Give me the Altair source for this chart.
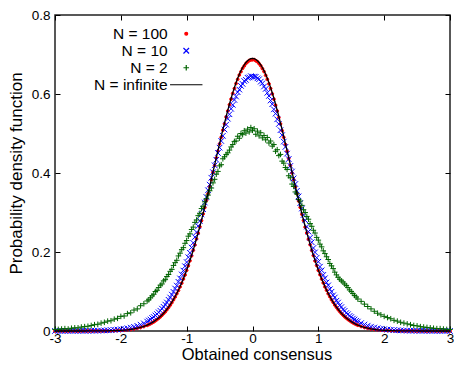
import altair as alt
import numpy as np
import pandas as pd

# sample positions (x) shared by all series
X_GRID = np.round(np.concatenate([
    np.arange(-3.0, -1.62, 0.05),
    np.arange(-1.6, 1.6125, 0.025),
    np.arange(1.65, 3.02, 0.05),
]), 3)

SERIES = ["N = 100", "N = 10", "N = 2", "N = infinite"]
COLORS = ["#ff0000", "#0000ff", "#006400", "#000000"]
FILLS = ["#ff0000", "transparent", "transparent", "transparent"]
SHAPES = [
    "M-0.32,0A0.32,0.32,0,1,1,0.32,0A0.32,0.32,0,1,1,-0.32,0Z",
    "M-0.62,-0.62L0.62,0.62M0.62,-0.62L-0.62,0.62",
    "M-0.62,0H0.62M0,-0.62V0.62",
    "M-3.6,0H3.6",
]
X_TICKS = [-3, -2, -1, 0, 1, 2, 3]
Y_TICKS = [0, 0.2, 0.4, 0.6, 0.8]

RED_Y = [
    0, 0, 0, 0, 0, 0, 0, 0, 0, 0,
    0.0001, 0.0001, 0.0001, 0.0002, 0.0003, 0.0003, 0.0005, 0.0006, 0.0009, 0.0012,
    0.0016, 0.0022, 0.0030, 0.0040, 0.0052, 0.0068, 0.0088, 0.0113,
    0.0143, 0.0163, 0.0183, 0.0207, 0.0231, 0.0260, 0.0290, 0.0323, 0.0358, 0.0399,
    0.0443, 0.0487, 0.0541, 0.0594, 0.0655, 0.0718, 0.0790, 0.0862, 0.0944, 0.1025,
    0.1118, 0.1212, 0.1315, 0.1418, 0.1535, 0.1650, 0.1778, 0.1903, 0.2043, 0.2180,
    0.2330, 0.2476, 0.2638, 0.2793, 0.2965, 0.3126, 0.3305, 0.3472, 0.3658, 0.3831,
    0.4019, 0.4193, 0.4380, 0.4553, 0.4737, 0.4905, 0.5085, 0.5245, 0.5418, 0.5571,
    0.5730, 0.5871, 0.6014, 0.6138, 0.6266, 0.6373, 0.6480, 0.6566, 0.6650, 0.6712,
    0.6772, 0.6811, 0.6849, 0.6862,
    0.6868,
    0.6870, 0.6843, 0.6817, 0.6768, 0.6716, 0.6643, 0.6568, 0.6472, 0.6374, 0.6258,
    0.6140, 0.6004, 0.5870, 0.5718, 0.5570, 0.5405, 0.5243, 0.5072, 0.4903, 0.4722,
    0.4550, 0.4365, 0.4192, 0.4004, 0.3832, 0.3644, 0.3476, 0.3292, 0.3130, 0.2955,
    0.2798, 0.2630, 0.2482, 0.2324, 0.2186, 0.2040, 0.1910, 0.1775, 0.1658, 0.1533,
    0.1426, 0.1314, 0.1218, 0.1118, 0.1032, 0.0943, 0.0869, 0.0790, 0.0725, 0.0657,
    0.0600, 0.0543, 0.0494, 0.0445, 0.0403, 0.0362, 0.0327, 0.0292, 0.0264, 0.0234,
    0.0210, 0.0186, 0.0166, 0.0147,
    0.0114, 0.0089, 0.0067, 0.0052, 0.0040, 0.0030, 0.0022, 0.0016, 0.0012, 0.0009,
    0.0006, 0.0005, 0.0004, 0.0002, 0.0002, 0.0001, 0.0001, 0,
    0, 0, 0, 0, 0, 0, 0, 0, 0, 0,
]

BLUE_Y = [
    0.0001, 0.0001, 0.0001, 0.0001, 0.0001, 0.0002, 0.0002, 0.0002, 0.0003, 0.0003,
    0.0004, 0.0005, 0.0007, 0.0008, 0.0011, 0.0014, 0.0018, 0.0023, 0.0029, 0.0036,
    0.0045, 0.0056, 0.0070, 0.0086, 0.0106, 0.0131, 0.0160, 0.0193,
    0.0238, 0.0266, 0.0291, 0.0326, 0.0355, 0.0394, 0.0428, 0.0473, 0.0514, 0.0566,
    0.0611, 0.0669, 0.0722, 0.0790, 0.0848, 0.0921, 0.0990, 0.1075, 0.1150, 0.1245,
    0.1331, 0.1432, 0.1530, 0.1640, 0.1744, 0.1868, 0.1979, 0.2113, 0.2231, 0.2378,
    0.2502, 0.2657, 0.2788, 0.2951, 0.3085, 0.3252, 0.3392, 0.3563, 0.3705, 0.3880,
    0.4020, 0.4195, 0.4335, 0.4507, 0.4642, 0.4811, 0.4941, 0.5101, 0.5224, 0.5375,
    0.5487, 0.5626, 0.5725, 0.5851, 0.5936, 0.6045, 0.6112, 0.6205, 0.6255, 0.6328,
    0.6358, 0.6411, 0.6421, 0.6452,
    0.6438,
    0.6440, 0.6436, 0.6397, 0.6374, 0.6312, 0.6270, 0.6190, 0.6128, 0.6030, 0.5951,
    0.5835, 0.5742, 0.5611, 0.5503, 0.5359, 0.5240, 0.5085, 0.4958, 0.4795, 0.4660,
    0.4490, 0.4352, 0.4180, 0.4037, 0.3864, 0.3721, 0.3549, 0.3408, 0.3238, 0.3100,
    0.2936, 0.2803, 0.2643, 0.2517, 0.2364, 0.2246, 0.2101, 0.1991, 0.1855, 0.1753,
    0.1628, 0.1535, 0.1420, 0.1336, 0.1230, 0.1156, 0.1058, 0.0994, 0.0904, 0.0848,
    0.0767, 0.0720, 0.0648, 0.0606, 0.0545, 0.0510, 0.0456, 0.0425, 0.0381, 0.0353,
    0.0315, 0.0291, 0.0260, 0.0238,
    0.0200, 0.0163, 0.0135, 0.0109, 0.0088, 0.0071, 0.0057, 0.0046, 0.0037, 0.0030,
    0.0024, 0.0019, 0.0015, 0.0012, 0.0009, 0.0007, 0.0006, 0.0005, 0.0004, 0.0003,
    0.0003, 0.0002, 0.0002, 0.0001, 0.0001, 0.0001, 0.0001, 0.0001,
]

GREEN_Y = [
    0.004, 0.004, 0.005, 0.006, 0.005, 0.007, 0.008, 0.008, 0.010, 0.011,
    0.012, 0.014, 0.016, 0.017, 0.020, 0.022, 0.025, 0.026, 0.030, 0.032,
    0.037, 0.038, 0.044, 0.046, 0.053, 0.056, 0.064, 0.069,
    0.076, 0.079, 0.084, 0.089, 0.093, 0.100, 0.103, 0.110, 0.116, 0.119,
    0.127, 0.130, 0.138, 0.143, 0.151, 0.156, 0.166, 0.173, 0.179, 0.190,
    0.197, 0.206, 0.211, 0.222, 0.229, 0.240, 0.246, 0.257, 0.263, 0.275,
    0.281, 0.292, 0.298, 0.310, 0.316, 0.327, 0.335, 0.344, 0.355, 0.362,
    0.375, 0.384, 0.397, 0.404, 0.418, 0.421, 0.436, 0.441, 0.447, 0.451,
    0.458, 0.466, 0.472, 0.480, 0.481, 0.493, 0.488, 0.500, 0.497, 0.507,
    0.501, 0.511, 0.504, 0.515,
    0.508,
    0.512, 0.498, 0.506, 0.494, 0.502, 0.489, 0.495, 0.484, 0.490, 0.476,
    0.481, 0.468, 0.472, 0.455, 0.459, 0.444, 0.447, 0.430, 0.425, 0.414,
    0.409, 0.393, 0.388, 0.372, 0.366, 0.352, 0.347, 0.333, 0.329, 0.318,
    0.307, 0.300, 0.290, 0.283, 0.272, 0.265, 0.255, 0.248, 0.237, 0.230,
    0.220, 0.213, 0.203, 0.196, 0.188, 0.181, 0.171, 0.165, 0.158, 0.149,
    0.142, 0.136, 0.131, 0.127, 0.124, 0.119, 0.115, 0.110, 0.104, 0.100,
    0.095, 0.090, 0.086, 0.081,
    0.075, 0.068, 0.062, 0.056, 0.050, 0.045, 0.041, 0.037, 0.034, 0.031,
    0.027, 0.025, 0.022, 0.020, 0.018, 0.016, 0.014, 0.013, 0.011, 0.010,
    0.009, 0.008, 0.007, 0.006, 0.006, 0.005, 0.004, 0.004,
]

THEORY_Y = [
    0, 0, 0, 0, 0, 0, 0, 0, 0, 0,
    0.0001, 0.0001, 0.0001, 0.0002, 0.0003, 0.0004, 0.0005, 0.0007, 0.0009, 0.0013,
    0.0017, 0.0023, 0.0031, 0.0041, 0.0054, 0.0070, 0.0091, 0.0117,
    0.0149, 0.0168, 0.0189, 0.0212, 0.0238, 0.0266, 0.0297, 0.0330, 0.0367, 0.0407,
    0.0451, 0.0498, 0.0550, 0.0605, 0.0665, 0.0730, 0.0799, 0.0874, 0.0953, 0.1038,
    0.1128, 0.1224, 0.1325, 0.1432, 0.1544, 0.1664, 0.1787, 0.1916, 0.2052, 0.2193,
    0.2339, 0.2490, 0.2646, 0.2807, 0.2972, 0.3140, 0.3313, 0.3487, 0.3665, 0.3845,
    0.4026, 0.4207, 0.4388, 0.4568, 0.4746, 0.4922, 0.5096, 0.5263, 0.5430, 0.5591,
    0.5744, 0.5892, 0.6030, 0.6161, 0.6284, 0.6396, 0.6499, 0.6591, 0.6671, 0.6740,
    0.6797, 0.6842, 0.6874, 0.6894,
    0.6900,
    0.6894, 0.6874, 0.6842, 0.6797, 0.6740, 0.6671, 0.6591, 0.6499, 0.6396, 0.6284,
    0.6161, 0.6030, 0.5892, 0.5744, 0.5591, 0.5430, 0.5263, 0.5096, 0.4922, 0.4746,
    0.4568, 0.4388, 0.4207, 0.4026, 0.3845, 0.3665, 0.3487, 0.3313, 0.3140, 0.2972,
    0.2807, 0.2646, 0.2490, 0.2339, 0.2193, 0.2052, 0.1916, 0.1787, 0.1664, 0.1544,
    0.1432, 0.1325, 0.1224, 0.1128, 0.1038, 0.0953, 0.0874, 0.0799, 0.0730, 0.0665,
    0.0605, 0.0550, 0.0498, 0.0451, 0.0407, 0.0367, 0.0330, 0.0297, 0.0266, 0.0238,
    0.0212, 0.0189, 0.0168, 0.0149,
    0.0117, 0.0091, 0.0070, 0.0054, 0.0041, 0.0031, 0.0023, 0.0017, 0.0013, 0.0009,
    0.0007, 0.0005, 0.0004, 0.0003, 0.0002, 0.0001, 0.0001, 0.0001,
    0, 0, 0, 0, 0, 0, 0, 0, 0, 0,
]

n = len(X_GRID)
assert len(RED_Y) == n and len(BLUE_Y) == n and len(GREEN_Y) == n and len(THEORY_Y) == n

pts = pd.concat([
    pd.DataFrame({"x": X_GRID, "y": RED_Y, "series": SERIES[0]}),
    pd.DataFrame({"x": X_GRID, "y": BLUE_Y, "series": SERIES[1]}),
    pd.DataFrame({"x": X_GRID, "y": GREEN_Y, "series": SERIES[2]}),
], ignore_index=True)
theory = pd.DataFrame({"x": X_GRID, "y": THEORY_Y})

FONT = "Liberation Sans"
W, H = 395, 316
xscale = alt.Scale(domain=[-3, 3], nice=False, zero=False)
yscale = alt.Scale(domain=[0, 0.8], nice=False)

legend = alt.Legend(
    title=None, orient="none", legendX=123.5, legendY=11,
    labelAlign="right", labelOffset={"expr": "-26.3"},
    labelFont=FONT, labelFontSize=15.5,
    labelColor="#000", labelLimit=300, symbolSize=81, symbolStrokeWidth=1.2,
    rowPadding=0, padding=0,
)

points = alt.Chart(pts).mark_point(size=81, strokeWidth=1, opacity=1).encode(
    x=alt.X("x:Q", scale=xscale, axis=alt.Axis(
        orient="bottom", values=X_TICKS, labelExpr="'' + datum.value",
        title="Obtained consensus", offset=-5, tickSize=5, domain=False,
        grid=False, labelFlush=False, labelPadding=0,
        titleX=201.5, titleY=33.5, titleBaseline="alphabetic")),
    y=alt.Y("y:Q", scale=yscale, axis=alt.Axis(
        orient="left", values=Y_TICKS, labelExpr="'' + datum.value",
        title="Probability density function", offset=-5, tickSize=5,
        domain=False, grid=False, labelFlush=False, labelPadding=5,
        titleX=-43.5, titleY=H / 2, titleBaseline="middle", titleAngle=270,
        titleFontSize=17)),
    stroke=alt.Stroke("series:N", scale=alt.Scale(domain=SERIES, range=COLORS), legend=legend),
    fill=alt.Fill("series:N", scale=alt.Scale(domain=SERIES, range=FILLS), legend=legend),
    shape=alt.Shape("series:N", scale=alt.Scale(domain=SERIES, range=SHAPES), legend=legend),
)

line = alt.Chart(theory).mark_line(color="#000", strokeWidth=1.3).encode(
    x=alt.X("x:Q", scale=xscale, axis=alt.Axis(
        orient="top", values=X_TICKS, labels=False, title="", offset=-5,
        tickSize=5, domain=False, grid=False)),
    y=alt.Y("y:Q", scale=yscale, axis=alt.Axis(
        orient="right", values=Y_TICKS, labels=False, title="", offset=-5,
        tickSize=5, domain=False, grid=False)),
)

chart = alt.layer(points, line).resolve_axis(
    x="independent", y="independent"
).properties(
    width=W, height=H,
    padding={"left": 47, "top": 7, "right": 4, "bottom": 32},
    autosize=alt.AutoSizeParams(type="none"),
).configure_view(
    stroke="#222", strokeWidth=1.5
).configure_axis(
    tickColor="#000", tickWidth=1, labelFont=FONT, labelFontSize=13.5,
    labelColor="#000", titleFont=FONT, titleFontSize=16.5,
    titleColor="#000", titleFontWeight="normal",
)

chart.save("out.html", embed_options={"renderer": "svg", "actions": False})
